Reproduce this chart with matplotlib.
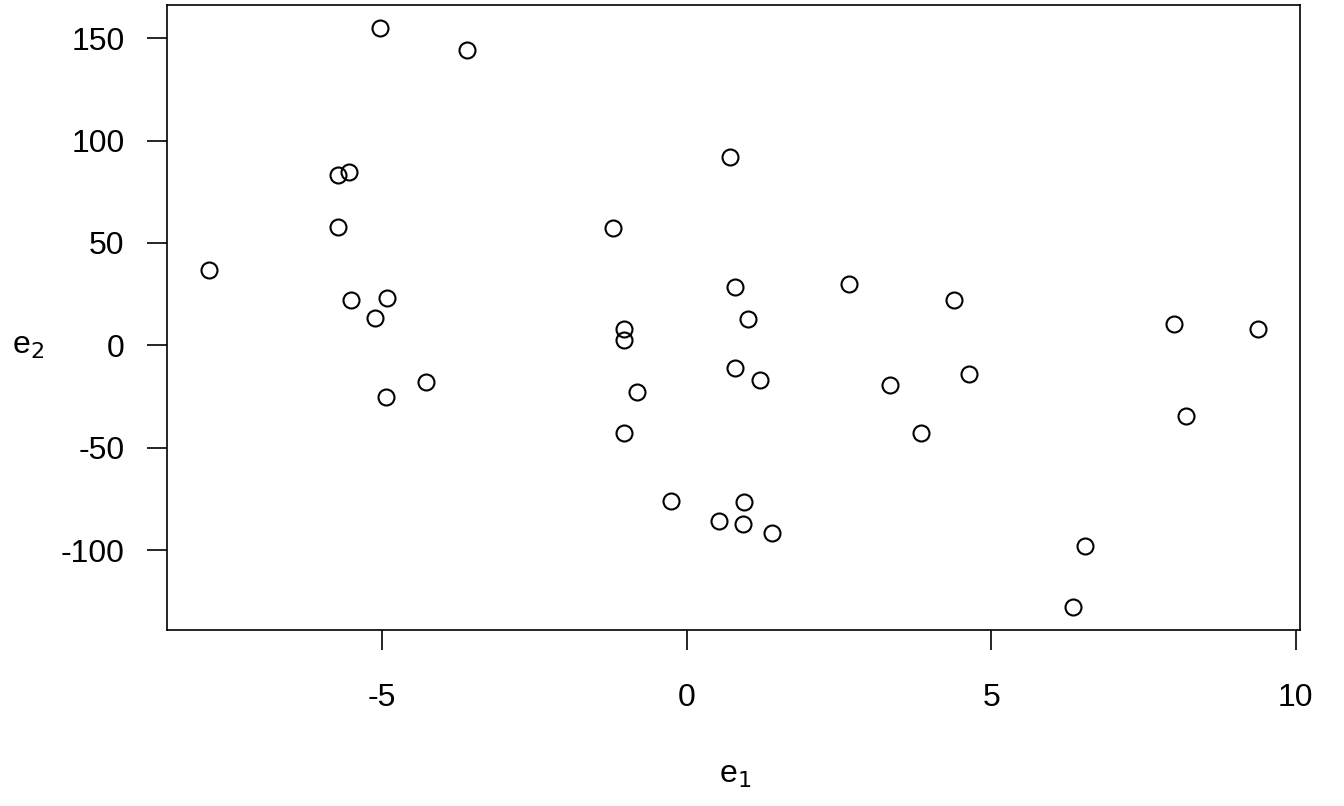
import matplotlib
matplotlib.use("Agg")
import matplotlib.pyplot as plt

plt.rcParams['font.family'] = ['Liberation Sans', 'DejaVu Sans']

# residuals
e1 = [-7.84, -5.03, -3.61, -5.72, -5.54, -5.72, -5.51, -4.92, -5.11, -4.93,
      -4.28, -1.21, -1.02, -1.02, -0.82, -1.02, -0.25, 0.72, 0.79, 1.00,
      0.79, 1.21, 0.54, 0.95, 0.92, 1.41, 2.66, 3.34, 3.84, 4.39,
      4.64, 6.34, 6.54, 8.00, 8.20, 9.38]
e2 = [36.9, 154.9, 144.2, 83.0, 84.5, 57.8, 22.3, 23.3, 13.6, -25.2,
      -18.0, 57.3, 7.8, 2.4, -22.8, -42.7, -76.2, 92.2, 28.6, 13.1,
      -11.2, -17.0, -85.9, -76.7, -87.4, -91.7, 30.1, -19.4, -42.7, 22.3,
      -14.1, -127.7, -98.1, 10.2, -34.5, 7.8]
xticks = [-5, 0, 5, 10]
yticks = [-100, -50, 0, 50, 100, 150]

fig = plt.figure(figsize=(13.44, 8.06), dpi=100)
ax = fig.add_axes([167/1344, 1-630/806, (1300-167)/1344, (630-5)/806])

ax.plot(e1, e2, 'o', mfc='none', mec='black', ms=11.5, mew=1.5)

# R-like 4% padding
xr = max(e1) - min(e1)
yr = max(e2) - min(e2)
ax.set_xlim(min(e1) - 0.04*xr, max(e1) + 0.04*xr)
ax.set_ylim(min(e2) - 0.04*yr, max(e2) + 0.04*yr)

ax.set_xticks(xticks)
ax.set_yticks(yticks)
ax.set_xticklabels([str(t) for t in xticks])
ax.set_yticklabels([str(t) for t in yticks])
ax.tick_params(axis='both', direction='out', length=14.5, width=1.2, labelsize=23)
ax.tick_params(axis='x', pad=24)
ax.tick_params(axis='y', pad=16)
for s in ax.spines.values():
    s.set_linewidth(1.2)

fig.text(735/1344, 1-775/806, r'e$_1$', fontsize=23, ha='center', va='center')
fig.text(28/1344, 1-346/806, r'e$_2$', fontsize=23, ha='center', va='center')

fig.savefig('out.png', dpi=100)
